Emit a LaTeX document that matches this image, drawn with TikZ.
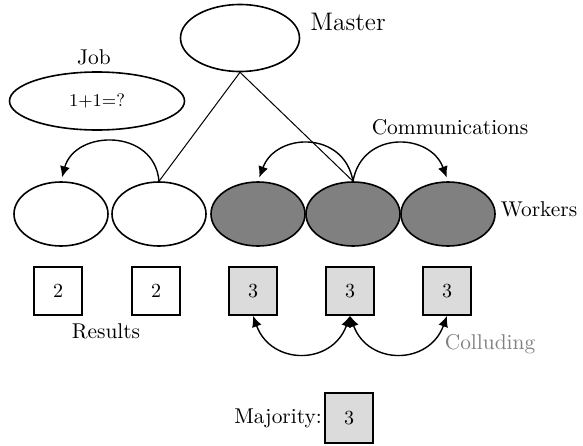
\documentclass[tikz,border=0pt]{standalone}
\usetikzlibrary{shapes.geometric,positioning,arrows.meta}
\definecolor{workergray}{gray}{0.5}
\definecolor{boxgray}{gray}{0.86}
\definecolor{textgray}{gray}{0.5}
\tikzset{
	worker/.style = {ellipse, draw, line width = 0.8pt, minimum width = 47pt, minimum height = 32pt, inner sep = 0pt},
	colluder/.style = {worker, fill = workergray},
	result/.style = {draw, line width = 0.8pt, minimum width = 24pt, minimum height = 24pt, inner sep = 0pt, font = \fontsize{10}{12}\selectfont},
	badresult/.style = {result, fill = boxgray},
	caption/.style = {inner sep = 0pt, font = \fontsize{10.7}{13}\selectfont},
	comm/.style = {line width = 0.7pt, looseness = 1.4, shorten > = 2pt}
}
\begin{document}
\begin{tikzpicture}[x = 0.5pt, y = 0.5pt, >={Latex[length = 5.5pt, width = 5pt]}]
	\useasboundingbox (0, 0) rectangle (583, -445);
	% master and job
	\node[worker, minimum width = 59.5pt, minimum height = 33.5pt] (master) at (240, -38) {};
	\node[caption, font = \fontsize{12.7}{15}\selectfont] (mastertext) at (348, -22) {Master};
	\node[caption] (jobtext) at (94, -57) {Job};
	\node[worker, minimum width = 87.5pt, minimum height = 29pt, font = \fontsize{9}{11}\selectfont] (job) at (97, -101) {1+1=?};
	% workers
	\node[worker] (w1) at (61, -214) {};
	\node[worker] (w2) at (159, -214) {};
	\node[colluder] (w3) at (258, -214) {};
	\node[colluder] (w4) at (353, -214) {};
	\node[colluder] (w5) at (448, -214) {};
	\node[caption] (workerstext) at (539, -209) {Workers};
	\draw[line width = 0.5pt] (master.south) -- (w2.north);
	\draw[line width = 0.5pt] (master.south) -- (w4.north);
	\draw[->, comm] (w2.north) to[out = 95, in = 75] (w1.north);
	\draw[->, comm] (w4.north) to[out = 100, in = 70] (w3.north);
	\draw[->, comm] (w4.north) to[out = 80, in = 110] (w5.north);
	\node[caption] (commtext) at (450, -127) {Communications};
	% results
	\node[result] (b1) at (58, -291) {2};
	\node[result] (b2) at (156, -291) {2};
	\node[badresult] (b3) at (253, -291) {3};
	\node[badresult] (b4) at (350, -291) {3};
	\node[badresult] (b5) at (447, -291) {3};
	\node[caption] (resultstext) at (106, -331) {Results};
	\draw[<->, comm, shorten > = 0pt] (b3.south) to[out = -70, in = -110] (b4.south);
	\draw[<->, comm, shorten > = 0pt] (b4.south) to[out = -70, in = -110] (b5.south);
	\node[caption, text = textgray] (colludetext) at (490, -344) {Colluding};
	% majority
	\node[badresult, minimum height = 25pt] (majority) at (349, -418) {3};
	\node[caption, left = 1pt of majority] (majoritytext) {Majority:};
\end{tikzpicture}
\end{document}
